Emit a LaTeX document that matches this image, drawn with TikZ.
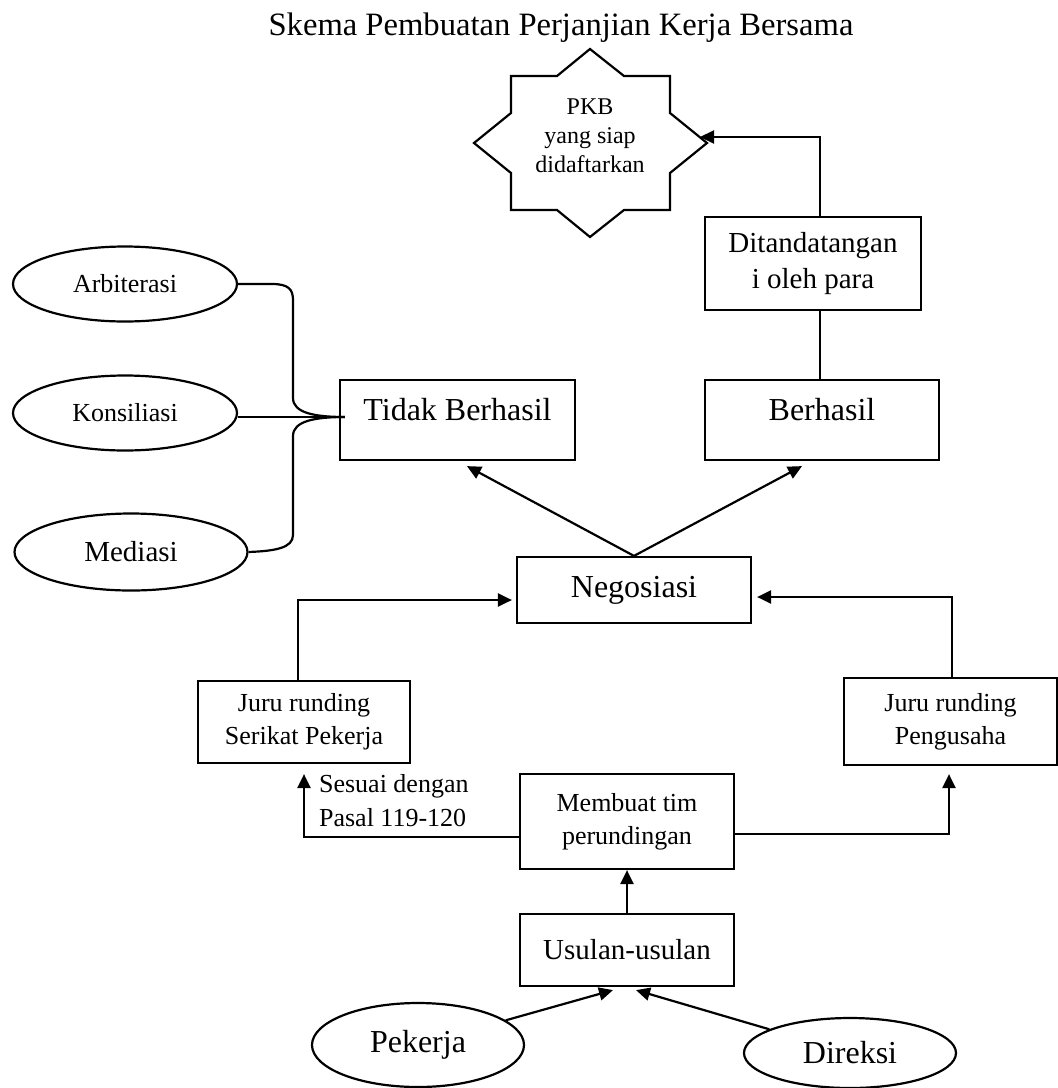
\documentclass[tikz,border=0pt]{standalone}
\usepackage{fontspec}
\setmainfont{Liberation Serif}
\usetikzlibrary{shapes.geometric,arrows.meta,calc}
\begin{document}
\begin{tikzpicture}[x=0.5pt,y=-0.5pt,
  line width=1.1pt,
  box/.style={draw, rectangle, align=center, inner sep=0pt},
  oval/.style={draw, ellipse, align=center, inner sep=0pt},
  arr/.style={-{Triangle[length=7pt,width=6.5pt]}},
  fa/.style={font=\fontsize{13}{16.5}\selectfont},
  fb/.style={font=\fontsize{14.5}{18}\selectfont},
  fc/.style={font=\fontsize{16}{19}\selectfont},
  fs/.style={font=\fontsize{12}{14.5}\selectfont}
]
\useasboundingbox (0,0) rectangle (1058,1088);

% title
\node[font=\fontsize{16.3}{19}\selectfont, anchor=base] (title) at (561,35) {Skema Pembuatan Perjanjian Kerja Bersama};

% star
\draw (474,143) -- (511,173) -- (511,210) -- (557,210) -- (590,237) -- (624,210) -- (670,210) -- (670,173) -- (707,143) -- (670,113) -- (670,76) -- (624,76) -- (590,49) -- (557,76) -- (511,76) -- (511,113) -- cycle;
\node[fs, align=center] (pkb) at (590,136) {PKB\\yang siap\\didaftarkan};
\coordinate (pkbtip) at (700,137);

% boxes
\node[box, fb, minimum width=108pt, minimum height=46.5pt] (dt) at (813,263.5) {Ditandatangan\\i oleh para};
\node[box, fc, minimum width=117pt, minimum height=40pt, text height=8pt, text depth=8pt] (bh) at (822,420) {Berhasil};
\node[box, fc, minimum width=117.5pt, minimum height=40pt, text height=8pt, text depth=8pt] (tb) at (457.5,420) {Tidak Berhasil};
\node[box, fc, minimum width=117pt, minimum height=33pt] (ng) at (634,590) {Negosiasi};
\node[box, fa, minimum width=106pt, minimum height=41pt] (jsp) at (304,722) {Juru runding\\Serikat Pekerja};
\node[box, fa, minimum width=106.5pt, minimum height=43.5pt] (jpg) at (950.5,721.5) {Juru runding\\Pengusaha};
\node[box, fa, minimum width=107pt, minimum height=47.5pt] (mt) at (627,821.5) {Membuat tim\\perundingan};
\node[box, fb, minimum width=107pt, minimum height=36pt] (us) at (627,950) {Usulan-usulan};
\node[font=\fontsize{13}{17}\selectfont, align=left, anchor=west, inner sep=0pt] (ps) at (318,801) {Sesuai dengan\\Pasal 119-120};

% ellipses
\node[oval, fa, minimum width=112pt, minimum height=37.5pt] (ab) at (125,284) {Arbiterasi};
\node[oval, fa, minimum width=112pt, minimum height=37.5pt] (ks) at (125,413) {Konsiliasi};
\node[oval, fb, minimum width=116.5pt, minimum height=38.5pt] (md) at (131,552) {Mediasi};
\node[oval, fc, minimum width=106pt, minimum height=42pt] (pk) at (418,1045) {Pekerja};
\node[oval, fc, minimum width=106pt, minimum height=35pt] (dr) at (850,1053) {Direksi};

% brace
\coordinate (brtip) at ($(tb.west)+(6,-3)$);
\draw (ab.east) -- (272,284) .. controls (288,284) and (293,289) .. (293,300) -- (293,398) .. controls (293,413) and (315,417) .. (brtip);
\draw (brtip) .. controls (315,417) and (293,421) .. (293,436) -- (293,535) .. controls (293,548) and (275,551) .. (md.east);
\draw (ks.east |- brtip) -- (brtip);

% connectors
\draw[arr] (ng.north) -- ($(tb.south)+(9.5,5)$);
\draw[arr] (ng.north) -- ($(bh.south)+(-20,5)$);
\draw ($(bh.north)+(-2,0)$) -- ($(dt.south)+(7,0)$);
\draw[arr] ($(dt.north)+(7,0)$) |- (pkbtip);
\draw[arr] ($(jsp.north)+(-6,0)$) |- ($(ng.west)+(-4,10)$);
\draw[arr] ($(jpg.north)+(1.5,0)$) |- ($(ng.east)+(5,7)$);
\draw[arr] ($(mt.west)+(0,15.5)$) -| ($(jsp.south)+(0,10)$);
\draw[arr] ($(mt.east)+(0,12.5)$) -| ($(jpg.south)+(-1.5,8)$);
\draw[arr] (us.north) -- (mt.south);
\draw[arr] (pk) -- ($(us.south)+(-14,3)$);
\draw[arr] (dr) -- ($(us.south)+(9,3)$);
\end{tikzpicture}
\end{document}
